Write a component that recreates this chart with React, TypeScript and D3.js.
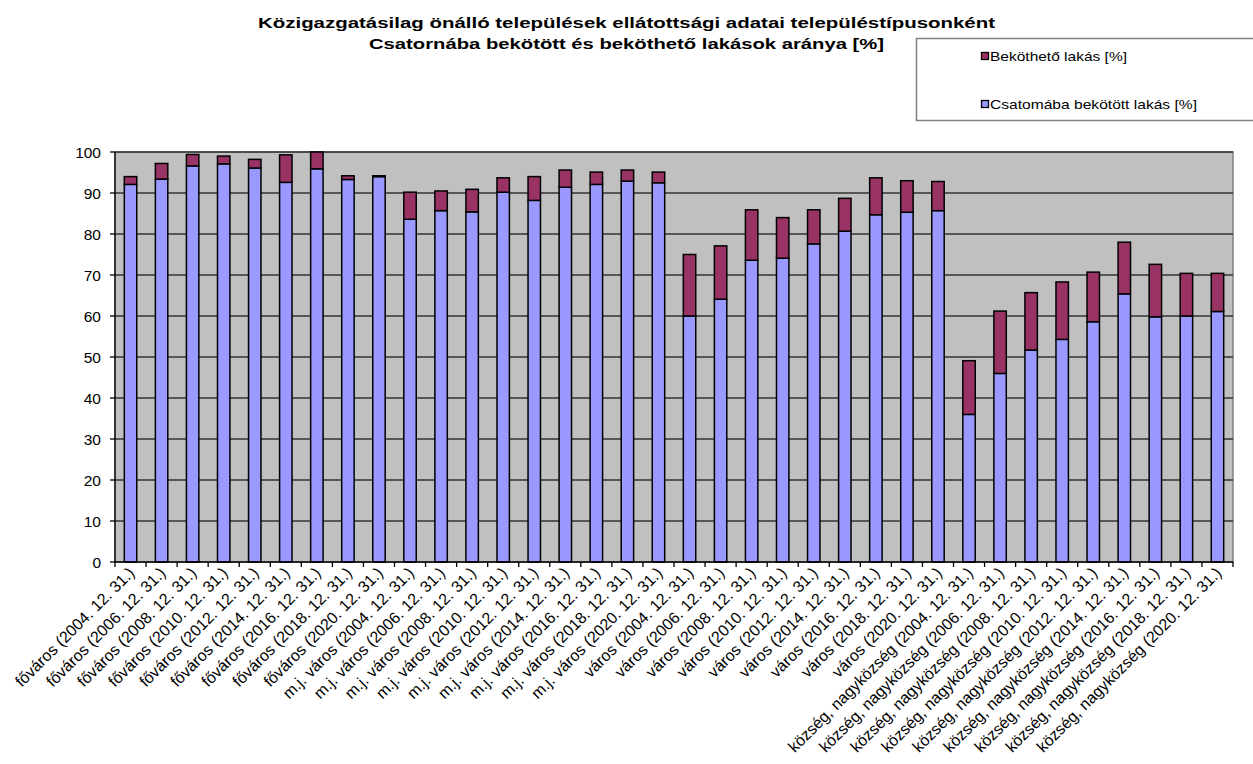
import React from "react";
import * as d3 from "d3";

const categories: string[] = [
  "főváros (2004. 12. 31.)", "főváros (2006. 12. 31.)", "főváros (2008. 12. 31.)", "főváros (2010. 12. 31.)",
  "főváros (2012. 12. 31.)", "főváros (2014. 12. 31.)", "főváros (2016. 12. 31.)", "főváros (2018. 12. 31.)",
  "főváros (2020. 12. 31.)",
  "m.j. város (2004. 12. 31.)", "m.j. város (2006. 12. 31.)", "m.j. város (2008. 12. 31.)", "m.j. város (2010. 12. 31.)",
  "m.j. város (2012. 12. 31.)", "m.j. város (2014. 12. 31.)", "m.j. város (2016. 12. 31.)", "m.j. város (2018. 12. 31.)",
  "m.j. város (2020. 12. 31.)",
  "város (2004. 12. 31.)", "város (2006. 12. 31.)", "város (2008. 12. 31.)", "város (2010. 12. 31.)",
  "város (2012. 12. 31.)", "város (2014. 12. 31.)", "város (2016. 12. 31.)", "város (2018. 12. 31.)",
  "város (2020. 12. 31.)",
  "község, nagyközség (2004. 12. 31.)", "község, nagyközség (2006. 12. 31.)", "község, nagyközség (2008. 12. 31.)",
  "község, nagyközség (2010. 12. 31.)", "község, nagyközség (2012. 12. 31.)", "község, nagyközség (2014. 12. 31.)",
  "község, nagyközség (2016. 12. 31.)", "község, nagyközség (2018. 12. 31.)", "község, nagyközség (2020. 12. 31.)",
];

const csatornabaBekotott: number[] = [
  92.1, 93.4, 96.6, 97.1, 96.1, 92.6, 95.9, 93.3, 94.0,
  83.6, 85.7, 85.4, 90.2, 88.2, 91.4, 92.1, 92.9, 92.5,
  60.0, 64.1, 73.6, 74.1, 77.6, 80.7, 84.7, 85.3, 85.7,
  36.0, 46.0, 51.7, 54.3, 58.6, 65.4, 59.8, 60.0, 61.1,
];

const bekotheto: number[] = [
  1.9, 3.8, 2.8, 1.9, 2.1, 6.7, 4.1, 0.9, 0.2,
  6.6, 4.8, 5.5, 3.5, 5.8, 4.2, 3.0, 2.7, 2.6,
  15.0, 13.0, 12.3, 9.9, 8.3, 8.0, 9.0, 7.7, 7.1,
  13.1, 15.2, 14.0, 14.0, 12.1, 12.6, 12.8, 10.4, 9.3,
];

const yTicks: number[] = [0, 10, 20, 30, 40, 50, 60, 70, 80, 90, 100];

const titleLines: string[] = [
  "Közigazgatásilag önálló települések ellátottsági adatai településtípusonként",
  "Csatornába bekötött és beköthető lakások aránya [%]",
];
const titleWidths: number[] = [737, 515];

const legendItems = [
  { label: "Beköthető lakás [%]", color: "#993366", width: 137 },
  { label: "Csatomába bekötött lakás [%]", color: "#9999FF", width: 207 },
];

export default function App() {
  const W = 1253, H = 764;
  const left = 115, right = 1233, top = 152, bottom = 562;
  const font = "Arial, 'Liberation Sans', sans-serif";

  const x = d3.scaleBand<string>().domain(categories).range([left, right]).paddingInner(0).paddingOuter(0);
  const y = d3.scaleLinear().domain([0, 100]).range([bottom, top]);
  const bw = x.bandwidth() * 0.4;

  return (
    <svg width={W} height={H} style={{ position: "absolute", left: 0, top: 0, background: "#fff" }} fontFamily={font}>
      {titleLines.map((t, i) => (
        <text key={i} x={626.5 - titleWidths[i] / 2} y={28 + i * 20.5} fontWeight="bold" fontSize={15.5} fill="#000"
          textLength={titleWidths[i]} lengthAdjust="spacingAndGlyphs">{t}</text>
      ))}

      {/* legend */}
      <rect x={916.5} y={38.5} width={345} height={82} fill="#fff" stroke="#808080" strokeWidth={1.5} />
      {legendItems.map((it, i) => (
        <g key={i}>
          <rect x={981.5} y={52.5 + i * 48} width={7} height={7} fill={it.color} stroke="#000" strokeWidth={1.3} />
          <text x={990} y={61 + i * 48} fontSize={13.5} fill="#000" textLength={it.width} lengthAdjust="spacingAndGlyphs">{it.label}</text>
        </g>
      ))}

      {/* plot area */}
      <rect x={left} y={top} width={right - left} height={bottom - top} fill="#C0C0C0" stroke="#808080" strokeWidth={1.5} />
      {yTicks.filter((v) => v > 0).map((v) => (
        <line key={v} x1={left} x2={right} y1={y(v)} y2={y(v)} stroke="#333" strokeWidth={1.3} />
      ))}

      {/* bars */}
      {categories.map((c, i) => {
        const cx = (x(c) as number) + x.bandwidth() / 2;
        const b = csatornabaBekotott[i];
        const k = bekotheto[i];
        return (
          <g key={c}>
            <rect x={cx - bw / 2} y={y(b)} width={bw} height={y(0) - y(b)} fill="#9999FF" stroke="#000" strokeWidth={1.5} />
            {k > 0 && (
              <rect x={cx - bw / 2} y={y(b + k)} width={bw} height={y(b) - y(b + k)} fill="#993366" stroke="#000" strokeWidth={1.5} />
            )}
          </g>
        );
      })}

      {/* axes */}
      <line x1={left} x2={left} y1={top} y2={bottom} stroke="#000" strokeWidth={1.3} />
      <line x1={left} x2={right} y1={bottom} y2={bottom} stroke="#000" strokeWidth={1.3} />
      {yTicks.map((v) => (
        <g key={v}>
          <line x1={left - 5} x2={left} y1={y(v)} y2={y(v)} stroke="#000" strokeWidth={1.3} />
          <text x={101} y={y(v) + 5.5} textAnchor="end" fontSize={15.5} fill="#000">{v}</text>
        </g>
      ))}
      {categories.map((c, i) => (
        <line key={"t" + i} x1={(x(c) as number)} x2={(x(c) as number)} y1={bottom} y2={bottom + 5} stroke="#000" strokeWidth={1.3} />
      ))}
      <line x1={right} x2={right} y1={bottom} y2={bottom + 5} stroke="#000" strokeWidth={1.3} />
      {categories.map((c) => {
        const cx = (x(c) as number) + x.bandwidth() / 2;
        return (
          <text key={"l" + c} transform={`translate(${cx + 5},${bottom + 12}) rotate(-45)`} textAnchor="end" fontSize={16} fill="#000">{c}</text>
        );
      })}
    </svg>
  );
}
